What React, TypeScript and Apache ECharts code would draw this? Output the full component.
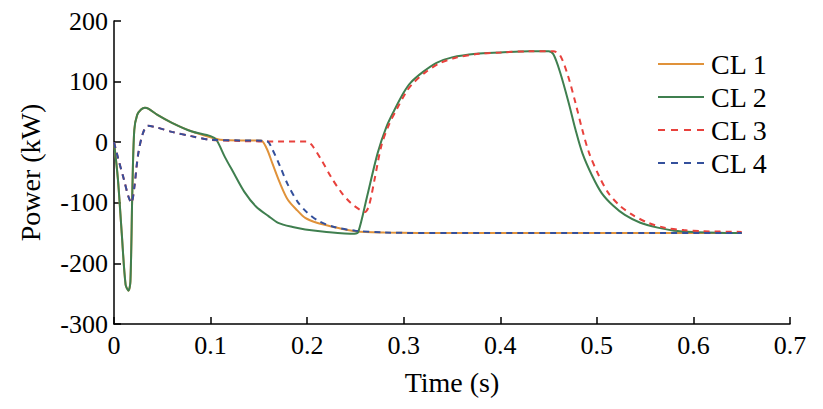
import { useEffect, useRef } from 'react';
import * as echarts from 'echarts';

const names = ['CL 1', 'CL 2', 'CL 3', 'CL 4'];
const colors = ['#e0923a', '#3f7f4f', '#e8413c', '#34509c'];

const cl2: [number, number][] = [
  [0, 0], [0.004, -60], [0.008, -150], [0.012, -235], [0.015, -245], [0.017, -230], [0.019, -80], [0.021, 20],
  [0.024, 45], [0.028, 54], [0.032, 57], [0.036, 55], [0.045, 45], [0.06, 32], [0.08, 18], [0.1, 10],
  [0.106, 4], [0.115, -25], [0.123, -48], [0.135, -82], [0.147, -106], [0.16, -122], [0.17, -133],
  [0.185, -140], [0.198, -144], [0.22, -148], [0.249, -151], [0.253, -148], [0.262, -90], [0.273, -18],
  [0.282, 25], [0.29, 52], [0.3, 82], [0.307, 98], [0.32, 116], [0.334, 131], [0.35, 140], [0.375, 146],
  [0.4, 148], [0.43, 150], [0.45, 150], [0.455, 145], [0.462, 115], [0.471, 64], [0.478, 20], [0.485, -18],
  [0.495, -55], [0.505, -84], [0.517, -105], [0.529, -120], [0.545, -133], [0.563, -141], [0.58, -146],
  [0.6, -148], [0.65, -150],
];
const cl1: [number, number][] = [
  [0, 0], [0.004, -60], [0.008, -150], [0.012, -235], [0.015, -245], [0.017, -230], [0.019, -80], [0.021, 20],
  [0.024, 45], [0.028, 54], [0.032, 57], [0.036, 55], [0.045, 45], [0.06, 32], [0.08, 18], [0.1, 8],
  [0.11, 4], [0.13, 3], [0.152, 3], [0.158, -10], [0.164, -35], [0.172, -68], [0.18, -95], [0.19, -113],
  [0.198, -125], [0.21, -133], [0.225, -139], [0.25, -147], [0.28, -149], [0.35, -150], [0.45, -150],
  [0.55, -150], [0.65, -150],
];
const cl3: [number, number][] = [
  [0, 0], [0.004, -25], [0.01, -60], [0.015, -90], [0.018, -100], [0.021, -75], [0.025, -20], [0.03, 15],
  [0.035, 27], [0.045, 24], [0.06, 17], [0.08, 10], [0.1, 4], [0.13, 2], [0.17, 1], [0.2, 1],
  [0.205, -5], [0.215, -30], [0.225, -58], [0.235, -82], [0.245, -100], [0.255, -112], [0.26, -115],
  [0.264, -105], [0.27, -60], [0.277, -5], [0.285, 30], [0.293, 55], [0.303, 84], [0.31, 98], [0.323, 116],
  [0.337, 130], [0.353, 139], [0.378, 146], [0.4, 148], [0.43, 150], [0.455, 150], [0.462, 143],
  [0.47, 110], [0.478, 64], [0.485, 20], [0.492, -18], [0.502, -55], [0.512, -84], [0.524, -105],
  [0.537, -120], [0.553, -133], [0.57, -141], [0.59, -145], [0.61, -147], [0.65, -148],
];
const cl4: [number, number][] = [
  [0, 0], [0.004, -25], [0.01, -60], [0.015, -90], [0.018, -100], [0.021, -75], [0.025, -20], [0.03, 15],
  [0.035, 27], [0.045, 24], [0.06, 17], [0.08, 10], [0.1, 4], [0.13, 3], [0.158, 2], [0.164, -12],
  [0.172, -40], [0.18, -70], [0.19, -98], [0.2, -116], [0.212, -130], [0.228, -140], [0.25, -146],
  [0.28, -149], [0.35, -150], [0.45, -150], [0.55, -150], [0.65, -150],
];
const seriesData = [cl1, cl2, cl3, cl4];

const font = 'Liberation Serif, Times New Roman, serif';
const solidIcon = 'path://M0,0 L46,0 L46,2 L0,2 Z';
const dashIcon = 'path://M0,0 L7,0 L7,2 L0,2 Z M13,0 L20,0 L20,2 L13,2 Z M26,0 L33,0 L33,2 L26,2 Z M39,0 L46,0 L46,2 L39,2 Z';

export default function App() {
  const ref = useRef<HTMLDivElement>(null);

  useEffect(() => {
    if (!ref.current) return;
    const chart = echarts.init(ref.current, undefined, { renderer: 'svg' });
    chart.setOption({
      animation: false,
      grid: { left: 99, right: 25, top: 12, bottom: 76 },
      legend: {
        orient: 'vertical',
        left: 645,
        top: 37,
        itemGap: 5,
        itemWidth: 46,
        itemHeight: 3,
        textStyle: { fontFamily: font, fontSize: 28, color: '#000', padding: [0, 0, 0, 2] },
        data: names.map((n, i) => ({ name: n, icon: i < 2 ? solidIcon : dashIcon })),
      },
      xAxis: {
        type: 'value',
        min: 0,
        max: 0.7,
        interval: 0.1,
        name: 'Time (s)',
        nameLocation: 'middle',
        nameGap: 44,
        nameTextStyle: { fontFamily: font, fontSize: 28, color: '#000' },
        axisLine: { onZero: false, lineStyle: { color: '#000', width: 1.5 } },
        axisTick: { inside: true, length: 7, lineStyle: { color: '#000', width: 1.5 } },
        axisLabel: { fontFamily: font, fontSize: 26, color: '#000', margin: 8 },
        splitLine: { show: false },
      },
      yAxis: {
        type: 'value',
        min: -300,
        max: 200,
        interval: 100,
        name: 'Power (kW)',
        nameLocation: 'middle',
        nameGap: 70,
        nameTextStyle: { fontFamily: font, fontSize: 28, color: '#000' },
        axisLine: { show: true, lineStyle: { color: '#000', width: 1.5 } },
        axisTick: { show: true, inside: true, length: 7, lineStyle: { color: '#000', width: 1.5 } },
        axisLabel: { fontFamily: font, fontSize: 26, color: '#000', margin: 6 },
        splitLine: { show: false },
      },
      series: seriesData.map((d, i) => ({
        name: names[i],
        type: 'line',
        data: d,
        smooth: 0.3,
        showSymbol: false,
        z: i === 1 ? 3 : i === 0 ? 2 : 4,
        lineStyle: { color: colors[i], width: 2, type: i < 2 ? 'solid' : [6, 5] },
        itemStyle: { color: colors[i] },
      })),
    });
    return () => chart.dispose();
  }, []);

  return <div ref={ref} style={{ width: 807, height: 393 }} />;
}
